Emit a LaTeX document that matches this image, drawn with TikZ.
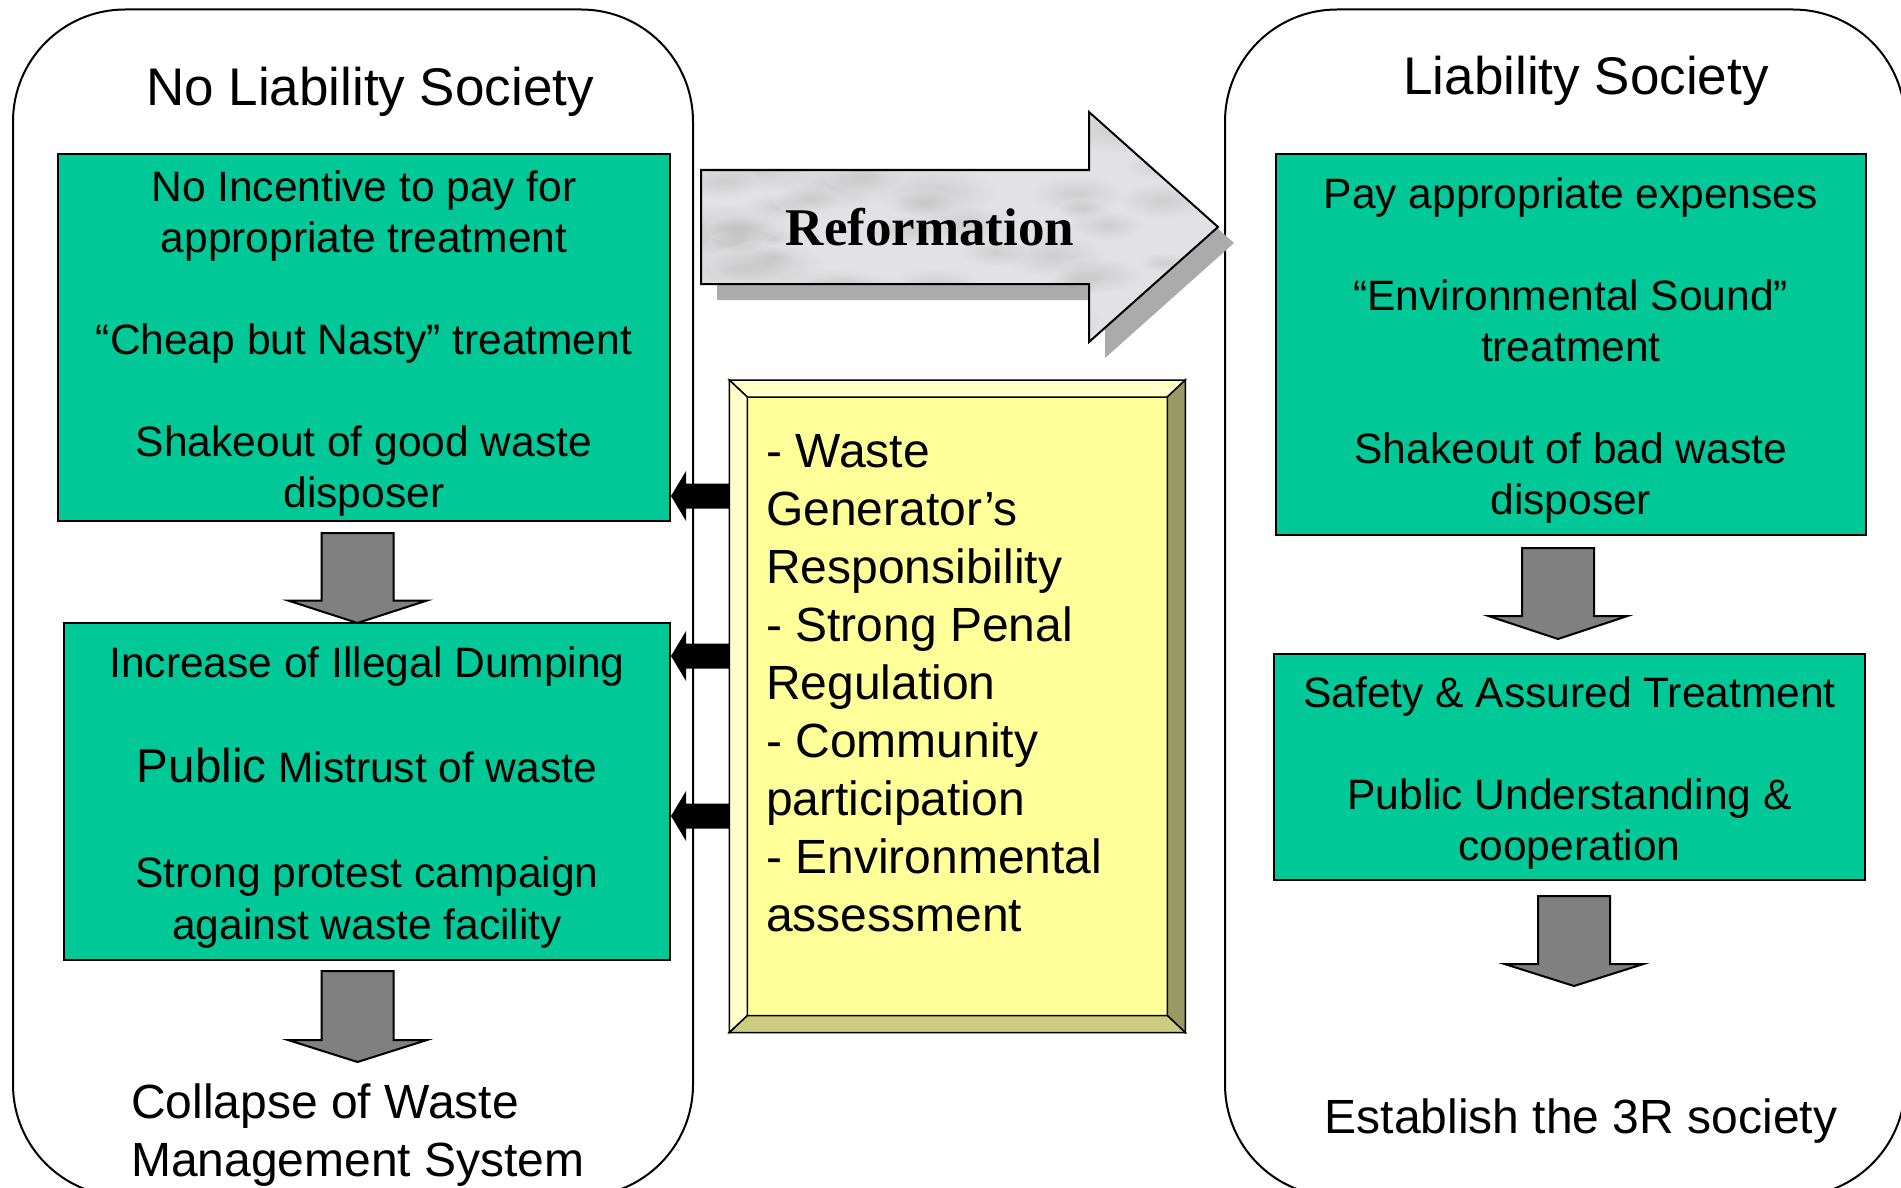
\documentclass[tikz,border=0pt]{standalone}
\usepackage{fontspec}
\setmainfont{Liberation Sans}
\newfontfamily\reffont{Liberation Serif}
\usetikzlibrary{calc}
\definecolor{boxgreen}{HTML}{00C896}
\definecolor{yface}{HTML}{FFFF99}
\definecolor{ytop}{HTML}{FFFFC8}
\definecolor{yleft}{HTML}{FFFFCC}
\definecolor{yright}{HTML}{999966}
\definecolor{ybottom}{HTML}{CCCC80}
\definecolor{arrgray}{HTML}{808080}
\definecolor{marble}{HTML}{E2E2E4}
\definecolor{shadowgray}{HTML}{ABABAB}

\newcommand\grayarrowdown[4]{% x, shaft top, head base, tip
  \draw[garr] ({#1-36},#2) -- ({#1+36},#2) -- ({#1+36},#3) -- ({#1+69.5},#3)
    -- (#1,#4) -- ({#1-69.5},#3) -- ({#1-36},#3) -- cycle;}
\newcommand\blackleftarrow[2]{% tail coordinate, tip coordinate
  \fill[black] ($(#1)+(0,-12.5)$) -- ($(#2)+(15,-12.5)$) -- ($(#2)+(15,-25)$)
    -- (#2) -- ($(#2)+(15,25)$) -- ($(#2)+(15,12.5)$) -- ($(#1)+(0,12.5)$) -- cycle;}

\begin{document}
\begin{tikzpicture}[x=1pt,y=-1pt,
  container/.style={draw=black, line width=2pt, rounded corners=112pt, inner sep=0pt},
  titletext/.style={font=\fontsize{53}{60}\selectfont, inner sep=0pt},
  gbox/.style={draw=black, line width=2pt, fill=boxgreen, inner sep=0pt},
  gtext/.style={inner sep=0pt, align=center, font=\fontsize{42.5}{51}\selectfont},
  garr/.style={draw=black, line width=2pt, fill=arrgray, line join=miter},
  bigtext/.style={font=\fontsize{48}{58}\selectfont, inner sep=0pt},
  bevel/.style={draw=black, line width=1.5pt, line join=miter},
]
\useasboundingbox (0,0) rectangle (1901,1188);
\fill[white] (0,0) rectangle (1901,1188);
\clip (0,0) rectangle (1901,1188);

% containers
\node[container, anchor=north west, minimum width=680pt, minimum height=1187pt] (LC) at (12,8.5) {};
\node[container, anchor=north west, minimum width=680pt, minimum height=1187pt] (RC) at (1224,8.5) {};

% titles
\node[titletext, anchor=base] (LT) at (370,106) {No Liability Society};
\node[titletext, anchor=base] (RT) at (1586,95) {Liability Society};

% left boxes
\node[gbox, minimum width=612pt, minimum height=367pt] (L1) at (364,337.5) {};
\node[gtext] (L1t) at ($(L1.center)+(0,6)$)
  {No Incentive to pay for\\appropriate treatment\\[51pt]“Cheap but Nasty” treatment\\[51pt]Shakeout of good waste\\disposer};
\node[gbox, minimum width=606pt, minimum height=337pt] (L2) at (367,791.5) {};
\node[gtext, font=\fontsize{42.5}{52.4}\selectfont] (L2t) at ($(L2.center)+(0,6)$)
  {Increase of Illegal Dumping\\[52.4pt]{\fontsize{47.5}{52.4}\selectfont Public} Mistrust of waste\\[52.4pt]Strong protest campaign\\against waste facility};

% right boxes
\node[gbox, minimum width=590.5pt, minimum height=381pt] (R1) at (1570.75,344.5) {};
\node[gtext] (R1t) at ($(R1.center)+(0,6)$)
  {Pay appropriate expenses\\[51pt]“Environmental Sound”\\treatment\\[51pt]Shakeout of bad waste\\disposer};
\node[gbox, minimum width=591pt, minimum height=226.5pt] (R2) at (1569.5,766.75) {};
\node[gtext] (R2t) at ($(R2.center)+(0,6)$)
  {Safety \& Assured Treatment\\[51pt]Public Understanding \&\\cooperation};

% gray down arrows
\grayarrowdown{357.5}{533}{600.5}{623}
\grayarrowdown{357.5}{971}{1040}{1062}
\grayarrowdown{1558}{548}{616}{639}
\grayarrowdown{1574}{896}{964}{986}

% Reformation arrow
\fill[shadowgray] (717,186) -- (1105,186) -- (1105,128) -- (1234,243) -- (1105,358) -- (1105,300) -- (717,300) -- cycle;
\fill[marble] (701,170) -- (1089,170) -- (1089,112) -- (1218,227) -- (1089,342) -- (1089,284) -- (701,284) -- cycle;
\begin{scope}
  \clip (701,170) -- (1089,170) -- (1089,112) -- (1218,227) -- (1089,342) -- (1089,284) -- (701,284) -- cycle;
  \pgfmathsetseed{7}
  \foreach \i in {1,...,55}{
    \pgfmathsetmacro\rx{701+rnd*520}
    \pgfmathsetmacro\ry{112+rnd*230}
    \pgfmathsetmacro\ra{20+rnd*45}
    \shade[inner color=gray!70, outer color=marble, opacity=0.33] (\rx,\ry) ellipse [x radius=\ra, y radius=0.4*\ra];
  }
\end{scope}
\draw[line width=2pt, line join=miter] (701,170) -- (1089,170) -- (1089,112) -- (1218,227) -- (1089,342) -- (1089,284) -- (701,284) -- cycle;
\node[font=\reffont\bfseries\fontsize{53}{60}\selectfont, inner sep=0pt] (REF) at (930,227) {Reformation};

% yellow beveled box
\node[draw=black, line width=1.5pt, fill=yface, minimum width=454.5pt, minimum height=651pt, inner sep=0pt] (YB) at (957.25,706.25) {};
\coordinate (onw) at (YB.north west);
\coordinate (one) at (YB.north east);
\coordinate (osw) at (YB.south west);
\coordinate (ose) at (YB.south east);
\coordinate (inw) at ($(onw)+(18,17)$);
\coordinate (ine) at ($(one)+(-18,17)$);
\coordinate (isw) at ($(osw)+(18,-17)$);
\coordinate (ise) at ($(ose)+(-18,-17)$);
\filldraw[bevel, fill=ytop] (onw) -- (one) -- (ine) -- (inw) -- cycle;
\filldraw[bevel, fill=yright] (one) -- (ose) -- (ise) -- (ine) -- cycle;
\filldraw[bevel, fill=ybottom] (ose) -- (osw) -- (isw) -- (ise) -- cycle;
\filldraw[bevel, fill=yleft] (osw) -- (onw) -- (inw) -- (isw) -- cycle;
\node[bigtext, anchor=base west, align=left] (YT) at (766,931)
  {- Waste\\Generator’s\\Responsibility\\- Strong Penal\\Regulation\\- Community\\participation\\- Environmental\\assessment};

% black arrows from the yellow box to the left boxes
\coordinate (k1) at (0,496);
\coordinate (k2) at (0,656);
\coordinate (k3) at (0,816);
\coordinate (t1) at (YB.west |- k1); \coordinate (h1) at (L1.east |- k1);
\coordinate (t2) at (YB.west |- k2); \coordinate (h2) at (L2.east |- k2);
\coordinate (t3) at (YB.west |- k3); \coordinate (h3) at (L2.east |- k3);
\blackleftarrow{t1}{h1}
\blackleftarrow{t2}{h2}
\blackleftarrow{t3}{h3}

% bottom texts
\node[bigtext, anchor=base west, align=left] (CL) at (131,1176) {Collapse of Waste\\Management System};
\node[bigtext, anchor=base] (ES) at (1581,1133) {Establish the 3R society};
\end{tikzpicture}
\end{document}
